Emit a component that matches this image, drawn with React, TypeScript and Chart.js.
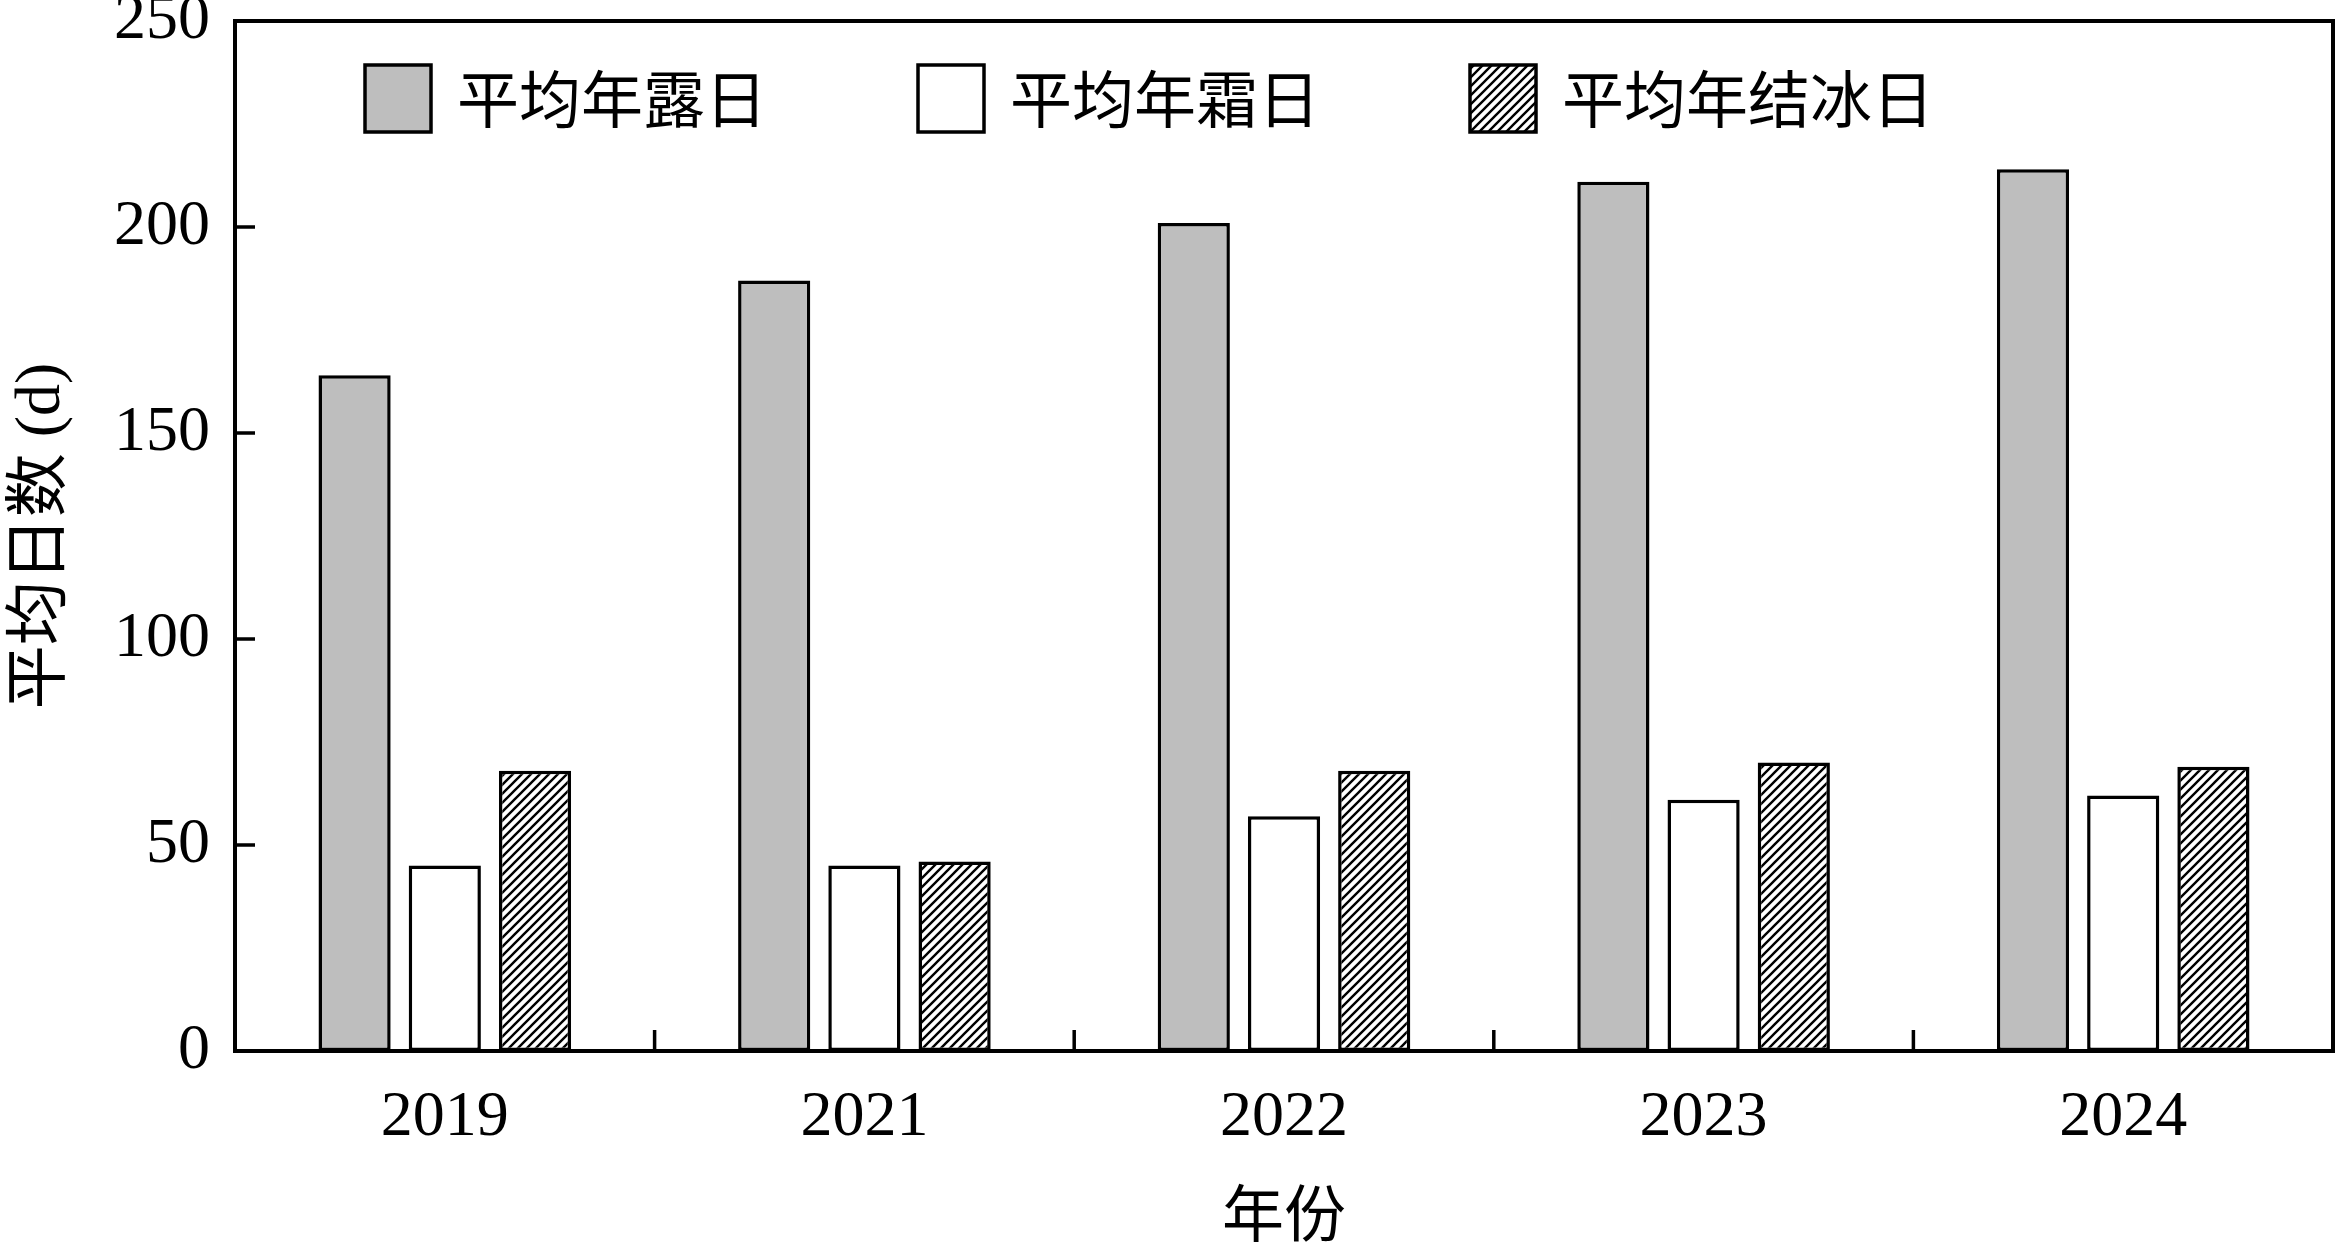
import React, { useEffect, useRef } from "react";
import { Chart, registerables } from "chart.js";

Chart.register(...registerables);

const categories = ["2019", "2021", "2022", "2023", "2024"];
const seriesLabels = ["平均年露日", "平均年霜日", "平均年结冰日"];
const dewDays = [164, 187, 201, 211, 214];
const frostDays = [45, 45, 57, 61, 62];
const iceDays = [68, 46, 68, 70, 69];
const yTicks = [0, 50, 100, 150, 200, 250];

const SERIF = "'Liberation Serif', 'Noto Sans CJK SC', serif";
const CJK = "'Noto Sans CJK SC', 'Liberation Serif', sans-serif";

function makeHatch(): CanvasPattern | string {
  const s = 9;
  const c = document.createElement("canvas");
  c.width = s;
  c.height = s;
  const g = c.getContext("2d");
  if (!g) return "#ffffff";
  g.fillStyle = "#ffffff";
  g.fillRect(0, 0, s, s);
  g.strokeStyle = "#000000";
  g.lineWidth = 2.4;
  g.beginPath();
  g.moveTo(-2, s + 2);
  g.lineTo(s + 2, -2);
  g.moveTo(-2, 2);
  g.lineTo(2, -2);
  g.moveTo(s - 2, s + 2);
  g.lineTo(s + 2, s - 2);
  g.stroke();
  const p = g.createPattern(c, "repeat");
  return p || "#ffffff";
}

const framePlugin = {
  id: "framePlugin",
  afterDatasetsDraw(chart: any) {
    const { ctx, chartArea } = chart;
    const { left, right, top, bottom } = chartArea;
    const xs = chart.scales.x;
    const ys = chart.scales.y;
    ctx.save();
    ctx.strokeStyle = "#000";
    ctx.lineWidth = 4;
    ctx.strokeRect(left, top, right - left, bottom - top);
    ctx.lineWidth = 3.5;
    ctx.beginPath();
    yTicks.forEach((v) => {
      const y = ys.getPixelForValue(v);
      ctx.moveTo(left, y);
      ctx.lineTo(left + 20, y);
    });
    for (let i = 0; i < categories.length - 1; i++) {
      const x = (xs.getPixelForValue(i) + xs.getPixelForValue(i + 1)) / 2;
      ctx.moveTo(x, bottom);
      ctx.lineTo(x, bottom - 21);
    }
    ctx.stroke();

    // legend
    const boxX = [365, 918, 1470];
    const boxW = 66;
    const boxH = 67;
    const boxY = 65;
    ctx.font = "62px " + CJK;
    ctx.textBaseline = "middle";
    ctx.textAlign = "left";
    chart.data.datasets.forEach((ds: any, i: number) => {
      const x = boxX[i];
      ctx.fillStyle = ds.backgroundColor;
      ctx.fillRect(x, boxY, boxW, boxH);
      ctx.lineWidth = 3.5;
      ctx.strokeStyle = "#000";
      ctx.strokeRect(x, boxY, boxW, boxH);
      ctx.fillStyle = "#000";
      ctx.fillText(ds.label, x + boxW + 26, boxY + boxH / 2 + 1);
    });
    ctx.restore();
  },
};

export default function App() {
  const ref = useRef<HTMLCanvasElement | null>(null);
  useEffect(() => {
    document.body.style.margin = "0";
    document.body.style.overflow = "hidden";
    if (!ref.current) return;
    const hatch = makeHatch();
    const fills = ["#bebebe", "#ffffff", hatch];
    const values = [dewDays, frostDays, iceDays];
    const chart = new Chart(ref.current, {
      type: "bar",
      data: {
        labels: categories,
        datasets: seriesLabels.map((label, i) => ({
          label,
          data: values[i],
          backgroundColor: fills[i] as any,
          borderColor: "#000000",
          borderWidth: 3.5,
          borderSkipped: false,
          categoryPercentage: 0.645,
          barPercentage: 0.8,
        })),
      },
      options: {
        animation: false,
        responsive: false,
        maintainAspectRatio: false,
        devicePixelRatio: 1,
        layout: { padding: { top: 21, right: 2, left: 0, bottom: 0 } },
        plugins: {
          legend: { display: false },
          tooltip: { enabled: false },
        },
        scales: {
          x: {
            offset: true,
            grid: { display: false, drawTicks: false },
            border: { display: false },
            ticks: {
              color: "#000",
              padding: 35,
              font: { family: SERIF, size: 64, lineHeight: 1 },
              maxRotation: 0,
            },
            title: {
              display: true,
              text: "年份",
              color: "#000",
              font: { family: CJK, size: 62, lineHeight: 1 },
              padding: { top: 0, bottom: 1 },
            },
            afterFit: (scale: any) => {
              scale.height = 1245 - 1051;
            },
          },
          y: {
            min: 0,
            max: 250,
            afterBuildTicks: (scale: any) => {
              scale.ticks = yTicks.map((v) => ({ value: v }));
            },
            grid: { display: false, drawTicks: false },
            border: { display: false },
            ticks: {
              color: "#000",
              padding: 25,
              font: { family: SERIF, size: 64, lineHeight: 1 },
            },
            title: {
              display: true,
              text: "平均日数 (d)",
              color: "#000",
              font: { family: SERIF, size: 64, lineHeight: 1 },
              padding: { top: 10, bottom: 0 },
            },
            afterFit: (scale: any) => {
              scale.width = 235;
              scale.paddingTop = 0;
              scale.paddingBottom = 0;
            },
          },
        },
      },
      plugins: [framePlugin],
    });
    return () => chart.destroy();
  }, []);
  return <canvas ref={ref} width={2335} height={1245} style={{ display: "block" }} />;
}
